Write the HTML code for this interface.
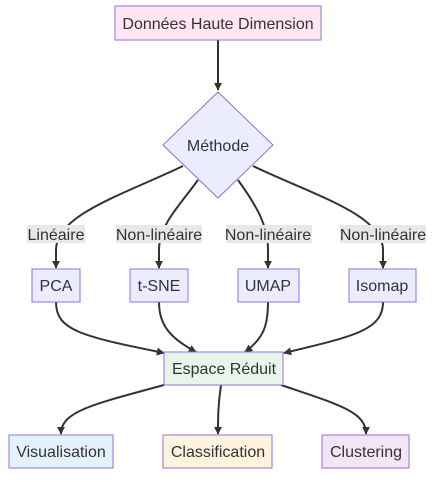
<!DOCTYPE html>
<html><head><meta charset="utf-8"><style>
body{margin:0;background:#fff;}
svg text{font-family:"Liberation Sans",sans-serif;font-size:16px;fill:#333;}
</style></head><body>
<svg width="434" height="477" viewBox="0 0 434 477">
<defs><marker id="ah" viewBox="0 0 10 10" refX="9" refY="5" markerWidth="8" markerHeight="8" markerUnits="userSpaceOnUse" orient="auto"><path d="M0,0L10,5L0,10z" fill="#333"/></marker></defs>
<g fill="none" stroke="#333" stroke-width="2" marker-end="url(#ah)">
<path d="M218,40 V90"/>
<path d="M183,166 C120,196 56,215 56,250 V268"/>
<path d="M198,180 C180,205 159,225 159,250 V268"/>
<path d="M238,180 C256,205 268,225 268,250 V268"/>
<path d="M253,166 C316,196 383,215 383,250 V268"/>
<path d="M56,302 C56,330 80,336 164,353"/>
<path d="M159,302 C159,325 170,338 196,352"/>
<path d="M268,302 C268,325 264,338 245,352"/>
<path d="M383,302 C383,330 355,336 284,353"/>
<path d="M164,385 C90,405 61,412 61,434"/>
<path d="M221,385 C218,405 218,418 218,434"/>
<path d="M281,385 C340,405 366,412 366,434"/>
</g>
<g>
<rect x="27" y="225" width="58" height="18" fill="#e8e8e8"/><text x="56" y="240" text-anchor="middle">Linéaire</text>
<rect x="116" y="225" width="86" height="18" fill="#e8e8e8"/><text x="159" y="240" text-anchor="middle">Non-linéaire</text>
<rect x="226" y="225" width="86" height="18" fill="#e8e8e8"/><text x="268" y="240" text-anchor="middle">Non-linéaire</text>
<rect x="340" y="225" width="86" height="18" fill="#e8e8e8"/><text x="383" y="240" text-anchor="middle">Non-linéaire</text>
</g>
<g stroke="#9370DB" stroke-width="1">
<g><rect x="115" y="6" width="206" height="34" fill="#ffe6f0"/><text x="218" y="29" text-anchor="middle" stroke="none">Données Haute Dimension</text></g>
<g><polygon points="218,92 273,145 218,198 163,145" fill="#ececff"/><text x="218" y="151" text-anchor="middle" stroke="none">Méthode</text></g>
<g><rect x="32" y="269" width="48" height="33" fill="#ececff"/><text x="56" y="291" text-anchor="middle" stroke="none">PCA</text></g>
<g><rect x="130" y="269" width="58" height="33" fill="#ececff"/><text x="159" y="291" text-anchor="middle" stroke="none">t-SNE</text></g>
<g><rect x="238" y="269" width="61" height="33" fill="#ececff"/><text x="268" y="291" text-anchor="middle" stroke="none">UMAP</text></g>
<g><rect x="349" y="269" width="67" height="33" fill="#ececff"/><text x="382" y="291" text-anchor="middle" stroke="none">Isomap</text></g>
<g><rect x="164" y="352" width="119" height="33" fill="#e8f5e9"/><text x="224" y="374" text-anchor="middle" stroke="none">Espace Réduit</text></g>
<g><rect x="9" y="435" width="104" height="33" fill="#e3f2fd"/><text x="61" y="457" text-anchor="middle" stroke="none">Visualisation</text></g>
<g><rect x="163" y="435" width="109" height="33" fill="#fff3e0"/><text x="218" y="457" text-anchor="middle" stroke="none">Classification</text></g>
<g><rect x="322" y="435" width="87" height="33" fill="#f3e5f5"/><text x="366" y="457" text-anchor="middle" stroke="none">Clustering</text></g>
</g>
</svg>
</body></html>
